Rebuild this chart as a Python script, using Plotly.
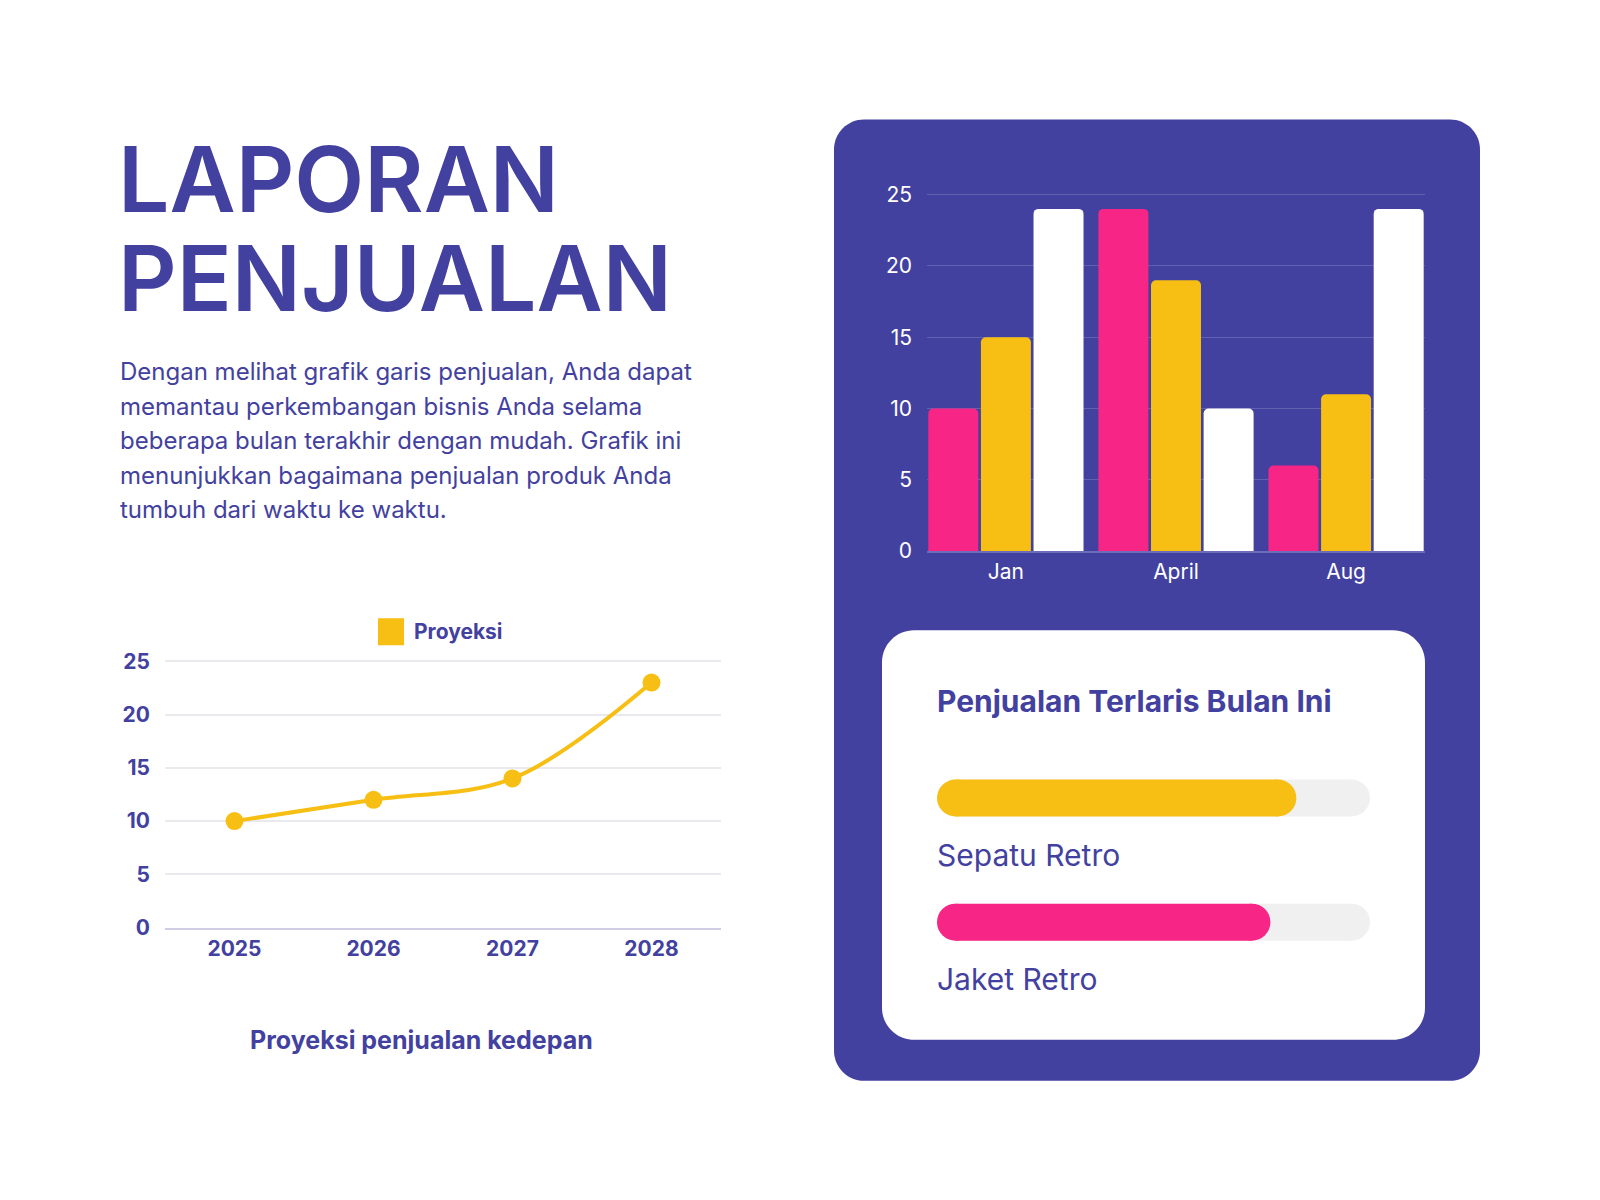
import plotly.graph_objects as go

# --- data ---
years = ["2025", "2026", "2027", "2028"]
projection = [10, 12, 14, 23]

months = ["Jan", "April", "Aug"]
sales_pink = [10, 24, 6]
sales_yellow = [15, 19, 11]
sales_white = [24, 10, 24]

products = ["Sepatu Retro", "Jaket Retro"]
product_share = [83, 77]
share_max = 100

y_ticks = [0, 5, 10, 15, 20, 25]

paragraph = [
    "Dengan melihat grafik garis penjualan, Anda dapat",
    "memantau perkembangan bisnis Anda selama",
    "beberapa bulan terakhir dengan mudah. Grafik ini",
    "menunjukkan bagaimana penjualan produk Anda",
    "tumbuh dari waktu ke waktu.",
]

# --- style ---
W, H = 1600, 1200
purple = "#4341a0"
pink = "#f72585"
yellow = "#f7bf13"
track = "#f0f0f0"
font = "Inter"

# vertical calibration of the capture (measured on earlier renders)
Y0, YS = 8.6, 0.982


def fx(px):
    return px / W


def fy(py):
    return 1 - ((py - Y0) / YS) / H


def domain_for(bottom_px, top_px, top_val, range_max):
    # vertical domain so that top_val lands on top_px while the range runs to range_max
    k = (bottom_px - top_px) / top_val
    return [fy(bottom_px), fy(bottom_px - k * range_max)]


def rounded_rect(x0, y0, x1, y1, r):
    k = 0.5523 * r
    pts = [
        ("M", [(x0 + r, y0)]),
        ("L", [(x1 - r, y0)]),
        ("C", [(x1 - r + k, y0), (x1, y0 + r - k), (x1, y0 + r)]),
        ("L", [(x1, y1 - r)]),
        ("C", [(x1, y1 - r + k), (x1 - r + k, y1), (x1 - r, y1)]),
        ("L", [(x0 + r, y1)]),
        ("C", [(x0 + r - k, y1), (x0, y1 - r + k), (x0, y1 - r)]),
        ("L", [(x0, y0 + r)]),
        ("C", [(x0, y0 + r - k), (x0 + r - k, y0), (x0 + r, y0)]),
    ]
    out = ""
    for cmd, coords in pts:
        out += cmd + " " + " ".join(f"{fx(a):.5f},{fy(b):.5f}" for a, b in coords) + " "
    return out + "Z"


fig = go.Figure()

# line chart: projection
fig.add_trace(go.Scatter(
    x=years, y=projection, mode="lines+markers",
    line=dict(color=yellow, width=4, shape="spline"),
    marker=dict(color=yellow, size=18),
    name="Proyeksi", showlegend=False, xaxis="x", yaxis="y",
    cliponaxis=False,
))

# grouped bars in the panel
for vals, col in [(sales_pink, pink), (sales_yellow, yellow), (sales_white, "#ffffff")]:
    fig.add_trace(go.Bar(
        x=months, y=vals, marker=dict(color=col, cornerradius=5, line_width=0),
        xaxis="x2", yaxis="y2", showlegend=False,
    ))

# progress bars: thick line with round end caps (circle markers)
pill_px = 37
x3_left, x3_right = 937, 1370
cap = (pill_px / 2) * share_max / (x3_right - x3_left)  # cap radius in data units
ypos = list(range(len(products)))[::-1]


def pill(pos, value, col):
    fig.add_trace(go.Scatter(
        x=[cap, value - cap], y=[pos, pos], mode="lines+markers",
        line=dict(color=col, width=pill_px),
        marker=dict(color=col, size=pill_px, line_width=0),
        xaxis="x3", yaxis="y3", showlegend=False, hoverinfo="skip", cliponaxis=False,
    ))


for p in ypos:
    pill(p, share_max, track)
for p, v, col in zip(ypos, product_share, [yellow, pink]):
    pill(p, v, col)

shapes = [
    dict(type="path", path=rounded_rect(834, 120, 1480, 1080, 30), xref="paper", yref="paper",
         fillcolor=purple, line_width=0, layer="below"),
    dict(type="path", path=rounded_rect(882, 630, 1425, 1039, 32), xref="paper", yref="paper",
         fillcolor="#ffffff", line_width=0, layer="below"),
    # legend swatch
    dict(type="rect", x0=fx(378), x1=fx(404), y0=fy(645), y1=fy(618), xref="paper", yref="paper",
         fillcolor=yellow, line_width=0),
]

ann = []
ann.append(dict(text="LAPORAN", x=fx(116), y=fy(179), xanchor="left", yanchor="middle",
                font=dict(size=91, color=purple, family=font, weight=600)))
ann.append(dict(text="PENJUALAN", x=fx(116), y=fy(278), xanchor="left", yanchor="middle",
                font=dict(size=91, color=purple, family=font, weight=600)))
for i, line in enumerate(paragraph):
    ann.append(dict(text=line, x=fx(118), y=fy(372 + i * 34.4), xanchor="left", yanchor="middle",
                    font=dict(size=24, color=purple, family=font)))
ann.append(dict(text="Proyeksi", x=fx(412), y=fy(631), xanchor="left", yanchor="middle",
                font=dict(size=21, color=purple, family=font, weight=700)))
ann.append(dict(text="Proyeksi penjualan kedepan", x=fx(421), y=fy(1039), xanchor="center",
                yanchor="middle", font=dict(size=25, color=purple, family=font, weight=700)))
ann.append(dict(text="Penjualan Terlaris Bulan Ini", x=fx(935), y=fy(701), xanchor="left",
                yanchor="middle", font=dict(size=30, color=purple, family=font, weight=700)))
for name, yc in zip(products, [854, 978]):
    ann.append(dict(text=name, x=fx(935), y=fy(yc), xanchor="left", yanchor="middle",
                    font=dict(size=30, color=purple, family=font)))
for a in ann:
    a.update(xref="paper", yref="paper", showarrow=False)

fig.update_layout(
    width=W, height=H, margin=dict(l=0, r=0, t=0, b=0),
    paper_bgcolor="#ffffff", plot_bgcolor="rgba(0,0,0,0)",
    barmode="group", bargap=0.072, bargroupgap=0.05,
    shapes=shapes, annotations=ann, showlegend=False,
    font=dict(family=font, color=purple),
    xaxis=dict(domain=[fx(165), fx(721)], range=[-0.5, 3.5], anchor="y",
               showgrid=False, zeroline=False, showline=True, linecolor="#cfcde3", linewidth=1.5,
               tickfont=dict(size=21, color=purple, weight=700), ticklabelstandoff=1),
    yaxis=dict(domain=domain_for(927, 661, 25, 25.4), range=[0, 25.4], tickvals=y_ticks,
               anchor="x", gridcolor="#e9e9ee", gridwidth=1.5, zeroline=False,
               tickfont=dict(size=21, color=purple, weight=700), ticklabelstandoff=14),
    xaxis2=dict(domain=[fx(927), fx(1425)], range=[-0.464, 2.464], anchor="y2",
                showgrid=False, zeroline=False, showline=True, linecolor="#6d6cbb", linewidth=1.5,
                tickfont=dict(size=21, color="#ffffff"), ticklabelstandoff=1),
    yaxis2=dict(domain=domain_for(551, 195, 25, 25.4), range=[0, 25.4], tickvals=y_ticks,
                anchor="x2", gridcolor="rgba(255,255,255,0.17)", gridwidth=1, zeroline=False,
                tickfont=dict(size=21, color="#ffffff"), ticklabelstandoff=14),
    xaxis3=dict(domain=[fx(x3_left), fx(x3_right)], range=[0, share_max], anchor="y3",
                visible=False),
    yaxis3=dict(domain=[fy(960), fy(760)], range=[-0.3105, 1.3024], anchor="x3", visible=False),
)

fig.write_html("out.html", config={"displayModeBar": False},
               post_script="document.body.style.margin='0';")
